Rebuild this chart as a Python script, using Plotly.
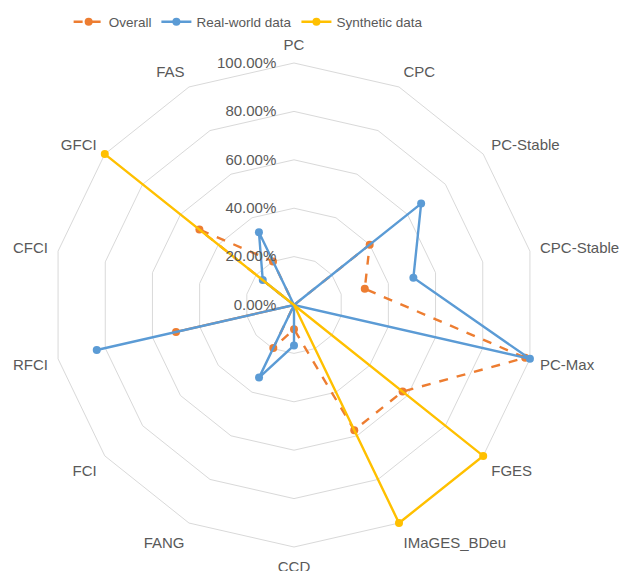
import plotly.graph_objects as go

categories = ["PC", "CPC", "PC-Stable", "CPC-Stable", "PC-Max", "FGES", "IMaGES_BDeu",
              "CCD", "FANG", "FCI", "RFCI", "CFCI", "GFCI", "FAS"]
overall = [0.0, 0.0, 0.40, 0.30, 0.98, 0.574, 0.574, 0.10, 0.197, 0.0, 0.50, 0.0, 0.50, 0.20]
real_world = [0.0, 0.0, 0.672, 0.506, 1.0, 0.0, 0.0, 0.167, 0.333, 0.0, 0.836, 0.0, 0.165, 0.334]
synthetic = [0.0, 0.0, 0.0, 0.0, 0.0, 1.0, 1.0, 0.0, 0.0, 0.0, 0.0, 0.0, 1.0, 0.0]
radial_ticks = [0, 0.2, 0.4, 0.6, 0.8, 1.0]

series = [
    ("Overall", overall, "#ED7D31", "dash"),
    ("Real-world data", real_world, "#5B9BD5", "solid"),
    ("Synthetic data", synthetic, "#FFC000", "solid"),
]

fig = go.Figure()
for name, vals, color, dash in series:
    fig.add_trace(go.Scatterpolar(
        r=vals + vals[:1],
        theta=categories + categories[:1],
        mode="lines+markers",
        name=name,
        cliponaxis=False,
        line=dict(color=color, width=2.4, dash=dash),
        marker=dict(color=color, size=8),
    ))

R_MAX = 1.02
cx, cy, rad = 294, 305, 242 * R_MAX

fig.update_layout(
    width=625, height=571,
    margin=dict(l=0, r=0, t=0, b=0),
    paper_bgcolor="white",
    font=dict(family="Liberation Sans, Arial, sans-serif", size=13, color="#595959"),
    showlegend=True,
    legend=dict(orientation="h", x=0.397, xanchor="center", y=1 - 22/571, yanchor="middle",
                font=dict(size=13.5, color="#595959"), itemwidth=30, bgcolor="rgba(0,0,0,0)"),
    polar=dict(
        domain=dict(x=[(cx - rad)/625, (cx + rad)/625],
                    y=[(571 - cy - rad)/571, (571 - cy + rad)/571]),
        bgcolor="white",
        gridshape="linear",
        angularaxis=dict(
            rotation=90, direction="clockwise",
            showgrid=False, showline=False,
            ticks="outside", ticklen=2, tickcolor="rgba(0,0,0,0)",
            tickfont=dict(size=15, color="#595959"),
        ),
        radialaxis=dict(
            range=[0, R_MAX], tickvals=radial_ticks, tickformat=".2%",
            angle=90, tickangle=90, side="counterclockwise",
            showline=False, ticks="outside", ticklen=12, tickcolor="rgba(0,0,0,0)",
            gridcolor="#D9D9D9", gridwidth=1,
            tickfont=dict(size=15, color="#595959"),
        ),
    ),
)

fig.write_html("out.html", post_script="document.body.style.margin='0';",
               config={"displayModeBar": False})
